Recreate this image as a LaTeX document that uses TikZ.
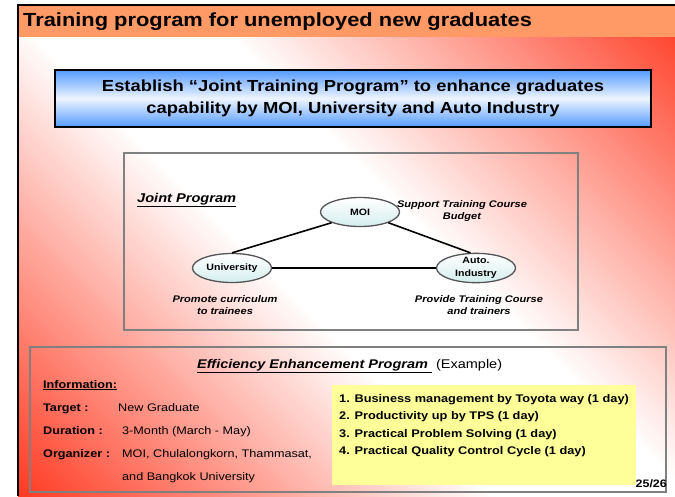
\documentclass[tikz,border=0pt]{standalone}
\usepackage{fontspec}
\setmainfont[FakeStretch=1.15]{Liberation Sans}
\usepackage{tikz}
\usetikzlibrary{shapes.geometric}

\definecolor{headorange}{RGB}{255,153,102}
\definecolor{bgred}{RGB}{255,55,30}
\definecolor{boxblue}{RGB}{85,155,255}
\definecolor{paleblue}{RGB}{238,245,255}
\definecolor{ovalfill}{RGB}{212,238,238}
\definecolor{ovalline}{RGB}{85,85,85}
\definecolor{framegray}{RGB}{128,128,128}
\definecolor{noteyellow}{RGB}{255,255,153}

\pgfdeclareverticalshading{slidebg}{100bp}{color(0bp)=(bgred); color(14bp)=(bgred); color(44bp)=(white); color(56bp)=(white); color(86bp)=(bgred); color(100bp)=(bgred)}

\newcommand{\fs}[2]{\fontsize{#1}{#2}\selectfont}

\begin{document}
\begin{tikzpicture}[x=1pt, y=-1pt,
  partner/.style={ellipse, draw=ovalline, line width=1.3pt, top color=white, bottom color=ovalfill,
    minimum width=79pt, minimum height=29pt, inner sep=0pt, align=center, font=\fs{9.2}{12.5}\bfseries},
  role/.style={align=center, inner sep=0pt, font=\fs{9.6}{12.5}\bfseries\itshape},
  info/.style={anchor=base west, inner sep=0pt, font=\fs{11}{13}},
  infokey/.style={info, font=\fs{11}{13}\bfseries},
  topic/.style={anchor=base west, inner sep=0pt, font=\fs{11.1}{13}\bfseries},
  link/.style={line width=1.6pt, black},
  panel/.style={draw=framegray, line width=2pt}]
\useasboundingbox (0,0) rectangle (675,496);
\fill[white] (0,0) rectangle (675,496);
\shade[shading=slidebg, shading angle=-45] (18,5) rectangle (675,496);
\fill[headorange] (18,5) rectangle (675,37);
\draw[line width=1.5pt] (18,496) -- (18,5) -- (675,5);

\node[anchor=base west, inner sep=0pt, font=\fs{19}{22}\bfseries] (title) at (23,26) {Training program for unemployed new graduates};

\node[draw, line width=1.3pt, top color=boxblue, bottom color=boxblue, middle color=paleblue,
  minimum width=596pt, minimum height=57pt, align=center, font=\fs{16}{22}\bfseries] (goal) at (353,98.5)
  {Establish “Joint Training Program” to enhance graduates\\capability by MOI, University and Auto Industry};

% joint program
\draw[panel] (124,153) rectangle (578,330);
\node[anchor=base west, inner sep=0pt, font=\fs{12.7}{15}\bfseries\itshape] (joint) at (137,202) {\underline{Joint Program}};

\node[partner] (moi) at (360,212) {MOI};
\node[partner] (uni) at (232,268) {University};
\node[partner] (auto) at (476,268) {Auto.\\Industry};
\draw[link] (uni.north) -- (moi.south west);
\draw[link] (moi.south east) -- (auto.110);
\draw[link] (uni) -- (auto);

\node[role] (budget) at (462,211) {Support Training Course\\Budget};
\node[role] (curric) at (225,305) {Promote curriculum\\to trainees};
\node[role] (trainers) at (479,305) {Provide Training Course\\and trainers};

% efficiency program
\draw[panel] (30,347) rectangle (666,492);
\node[anchor=base west, inner sep=0pt, font=\fs{12.6}{15}] (eep) at (197,368)
  {\underline{\textbf{\textit{Efficiency Enhancement Program\ }}}\ (Example)};

\node[infokey] (infohead) at (43,388) {\underline{Information:}};
\node[infokey] (target) at (43,411) {Target :};
\node[info] (targetval) at (118,411) {New Graduate};
\node[infokey] (duration) at (43,434) {Duration :};
\node[info] (durationval) at (122,434) {3-Month (March - May)};
\node[infokey] (organizer) at (43,457) {Organizer :};
\node[info] (organizerval) at (122,457) {MOI, Chulalongkorn, Thammasat,};
\node[info] (organizerval2) at (122,480) {and Bangkok University};

\fill[noteyellow] (332,385) rectangle (636,485);
\node[topic] (topic1) at (339,402) {1. Business management by Toyota way (1 day)};
\node[topic] (topic2) at (339,419) {2. Productivity up by TPS (1 day)};
\node[topic] (topic3) at (339,437) {3. Practical Problem Solving (1 day)};
\node[topic] (topic4) at (339,454) {4. Practical Quality Control Cycle (1 day)};

\node[anchor=base east, inner sep=0pt, font=\fs{10.8}{13}\bfseries] (page) at (667,487) {25/26};
\end{tikzpicture}
\end{document}
